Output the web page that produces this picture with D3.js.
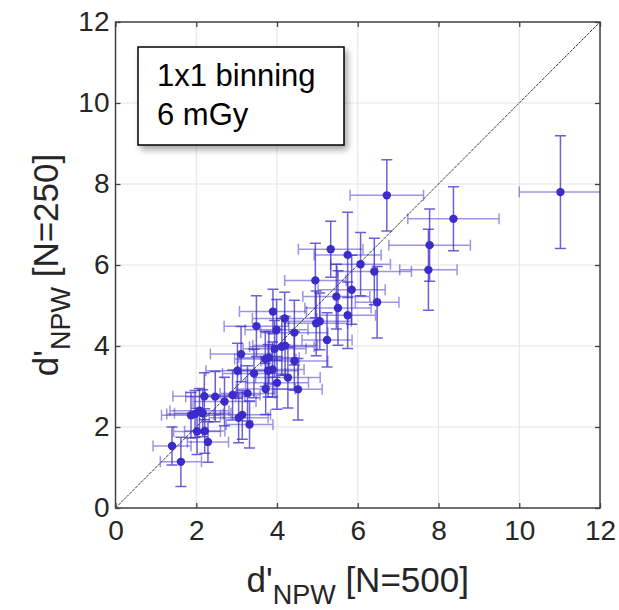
<!DOCTYPE html>
<html>
<head>
<meta charset="utf-8">
<script src="https://cdn.jsdelivr.net/npm/d3@7/dist/d3.min.js"></script>
<style>
  html, body { margin: 0; padding: 0; background: #fff; }
  svg { display: block; font-family: "Liberation Sans", Arial, Helvetica, sans-serif; }
</style>
</head>
<body>
<svg id="chart" width="619" height="610"></svg>
<script>
// d' (NPW) estimated with N=500 samples (x) vs. N=250 samples (y), 1x1 binning, 6 mGy
const xVals = [11.02, 6.72, 8.37, 7.78, 7.75, 5.33, 5.75, 6.07, 6.41, 4.95,
               5.85, 5.47, 6.48, 5.51, 5.75, 3.90, 3.49, 4.19, 3.99, 4.43,
               4.97, 5.06, 5.24, 3.11, 3.71, 3.80, 3.94, 4.12, 4.20, 4.43,
               3.02, 3.43, 3.78, 3.89, 4.27, 3.72, 4.00, 4.52, 3.27, 2.90,
               2.70, 2.47, 2.20, 3.05, 3.14, 3.32, 1.87, 1.97, 2.08, 2.16,
               2.02, 2.21, 2.29, 1.40, 1.62];
const yVals = [7.80, 7.72, 7.14, 6.49, 5.88, 6.39, 6.25, 6.02, 5.84, 5.62,
               5.39, 5.22, 5.08, 4.94, 4.76, 4.85, 4.49, 4.68, 4.40, 4.33,
               4.56, 4.61, 4.15, 3.80, 3.68, 3.71, 3.93, 3.98, 4.01, 3.63,
               3.39, 3.32, 3.39, 3.42, 3.22, 2.94, 3.09, 2.93, 2.83, 2.79,
               2.63, 2.75, 2.76, 2.23, 2.30, 2.06, 2.29, 2.32, 2.40, 2.34,
               1.89, 1.90, 1.63, 1.53, 1.14];
// half-widths of the confidence intervals
const xErr = [1.02, 0.91, 1.13, 1.01, 0.71, 0.80, 0.83, 0.74, 0.92, 0.76,
              0.83, 0.83, 0.54, 0.82, 0.69, 0.83, 0.80, 0.80, 0.78, 0.83,
              0.78, 0.78, 0.62, 0.76, 0.76, 0.75, 0.78, 0.80, 0.80, 0.83,
              0.78, 0.78, 0.75, 0.78, 0.80, 0.73, 0.78, 0.60, 0.68, 0.68,
              0.78, 0.73, 0.78, 0.73, 0.70, 0.58, 0.73, 0.70, 0.73, 0.70,
              0.58, 0.50, 0.51, 0.47, 0.51];
const yErr = [1.39, 0.88, 0.79, 0.89, 1.00, 0.69, 1.05, 0.78, 0.82, 0.92,
              0.85, 0.80, 0.88, 0.92, 0.82, 0.55, 0.75, 0.65, 0.75, 0.80,
              0.80, 0.70, 0.67, 0.68, 0.68, 0.65, 0.70, 0.70, 0.72, 0.72,
              0.68, 0.60, 0.65, 0.68, 0.75, 0.63, 0.65, 0.76, 0.68, 0.62,
              0.60, 0.62, 0.58, 0.62, 0.60, 0.58, 0.56, 0.58, 0.55, 0.58,
              0.57, 0.55, 0.50, 0.47, 0.61];
const tickValues = [0, 2, 4, 6, 8, 10, 12];
const annotationLines = ["1x1 binning", "6 mGy"];

const svg = d3.select("#chart");
const plotLeft = 115.5, plotRight = 600, plotTop = 22, plotBottom = 508;
const x = d3.scaleLinear().domain([0, 12]).range([plotLeft, plotRight]);
const y = d3.scaleLinear().domain([0, 12]).range([plotBottom, plotTop]);

const axisColor = "#404040";
const markColor = "#3b2bc9";

const defs = svg.append("defs");
defs.append("clipPath").attr("id", "plotClip")
  .append("rect").attr("x", plotLeft).attr("y", plotTop)
  .attr("width", plotRight - plotLeft).attr("height", plotBottom - plotTop);
const shadow = defs.append("filter").attr("id", "boxShadow")
  .attr("x", "-20%").attr("y", "-20%").attr("width", "150%").attr("height", "150%");
shadow.append("feDropShadow").attr("dx", 3).attr("dy", 4)
  .attr("stdDeviation", 3).attr("flood-color", "#000").attr("flood-opacity", 0.35);

// grid
const grid = svg.append("g");
grid.selectAll("line.gx").data(tickValues.slice(1, -1)).join("line")
  .attr("x1", d => x(d)).attr("x2", d => x(d)).attr("y1", plotTop).attr("y2", plotBottom)
  .attr("stroke", "#e3e3e3").attr("stroke-width", 1);
grid.selectAll("line.gy").data(tickValues.slice(1, -1)).join("line")
  .attr("y1", d => y(d)).attr("y2", d => y(d)).attr("x1", plotLeft).attr("x2", plotRight)
  .attr("stroke", "#e3e3e3").attr("stroke-width", 1);

// identity line
svg.append("line")
  .attr("x1", x(0)).attr("y1", y(0)).attr("x2", x(12)).attr("y2", y(12))
  .attr("stroke", "#222").attr("stroke-width", 0.9).attr("stroke-dasharray", "3,1");

// error bars and markers
const plot = svg.append("g").attr("clip-path", "url(#plotClip)");
const pts = xVals.map((v, i) => ({ x: v, y: yVals[i], xe: xErr[i], ye: yErr[i] }));
const cap = 5.5;

const hBars = plot.append("g").attr("stroke", markColor).attr("stroke-opacity", 0.5)
  .attr("stroke-width", 1.5).attr("fill", "none");
pts.forEach(p => {
  const x0 = x(p.x - p.xe), x1 = x(p.x + p.xe), yy = y(p.y);
  hBars.append("path")
    .attr("d", `M${x0},${yy}H${x1}M${x0},${yy - cap}V${yy + cap}M${x1},${yy - cap}V${yy + cap}`);
});
const vBars = plot.append("g").attr("stroke", markColor).attr("stroke-opacity", 0.75)
  .attr("stroke-width", 1.5).attr("fill", "none");
pts.forEach(p => {
  const y0 = y(p.y - p.ye), y1 = y(p.y + p.ye), xx = x(p.x);
  vBars.append("path")
    .attr("d", `M${xx},${y0}V${y1}M${xx - cap},${y0}H${xx + cap}M${xx - cap},${y1}H${xx + cap}`);
});
plot.append("g").selectAll("circle").data(pts).join("circle")
  .attr("cx", d => x(d.x)).attr("cy", d => y(d.y)).attr("r", 4.2)
  .attr("fill", markColor);

// axes (ticks pointing inward on all sides)
const fmt = d3.format("d");
function styleAxis(g) {
  g.selectAll("path.domain").remove();
  g.selectAll(".tick line").attr("stroke", axisColor).attr("stroke-width", 1.3);
  g.selectAll(".tick text").attr("fill", "#262626").attr("font-size", 28)
    .attr("font-family", "'Liberation Sans', Arial, Helvetica, sans-serif");
}
svg.append("g").attr("transform", `translate(0,${plotBottom})`)
  .call(d3.axisBottom(x).tickValues(tickValues).tickFormat(fmt).tickSize(-5).tickPadding(12))
  .call(styleAxis);
svg.append("g").attr("transform", `translate(${plotLeft},0)`)
  .call(d3.axisLeft(y).tickValues(tickValues).tickFormat(fmt).tickSize(-5).tickPadding(6))
  .call(styleAxis);
svg.append("g").attr("transform", `translate(0,${plotTop})`)
  .call(d3.axisTop(x).tickValues(tickValues).tickFormat("").tickSize(-5))
  .call(styleAxis);
svg.append("g").attr("transform", `translate(${plotRight},0)`)
  .call(d3.axisRight(y).tickValues(tickValues).tickFormat("").tickSize(-5))
  .call(styleAxis);

svg.append("rect").attr("x", plotLeft).attr("y", plotTop)
  .attr("width", plotRight - plotLeft).attr("height", plotBottom - plotTop)
  .attr("fill", "none").attr("stroke", axisColor).attr("stroke-width", 1.5);

// axis titles
const xLabel = svg.append("text")
  .attr("x", (plotLeft + plotRight) / 2).attr("y", 592)
  .attr("text-anchor", "middle").attr("font-size", 35).attr("fill", "#262626");
xLabel.append("tspan").text("d'");
xLabel.append("tspan").attr("font-size", 27).attr("dy", 12).text("NPW");
xLabel.append("tspan").attr("dy", -12).text(" [N=500]");

const yLabel = svg.append("text")
  .attr("transform", `translate(58,${(plotTop + plotBottom) / 2}) rotate(-90)`)
  .attr("text-anchor", "middle").attr("font-size", 35).attr("fill", "#262626");
yLabel.append("tspan").text("d'");
yLabel.append("tspan").attr("font-size", 27).attr("dy", 12).text("NPW");
yLabel.append("tspan").attr("dy", -12).text(" [N=250]");

// annotation box
const box = svg.append("g");
box.append("rect").attr("x", 138).attr("y", 47).attr("width", 206).attr("height", 98)
  .attr("fill", "#fff").attr("stroke", "#000").attr("stroke-width", 1.5)
  .attr("filter", "url(#boxShadow)");
box.selectAll("text").data(annotationLines).join("text")
  .attr("x", 157).attr("y", (d, i) => 86 + i * 39)
  .attr("font-size", 31).attr("fill", "#000").text(d => d);
</script>
</body>
</html>
